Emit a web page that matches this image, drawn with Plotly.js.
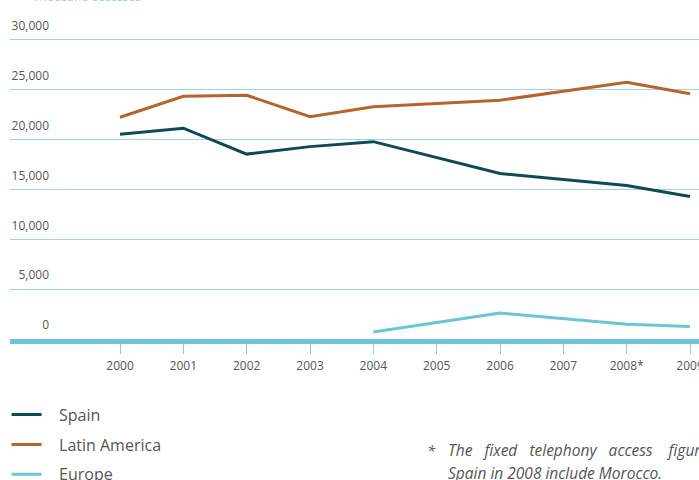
<!DOCTYPE html>
<html>
<head>
<meta charset="utf-8">
<script src="https://cdn.plot.ly/plotly-3.0.1.min.js"></script>
<style>html,body{margin:0;padding:0;background:#fff;}#chart{width:699px;height:480px;}</style>
</head>
<body>
<div id="chart"></div>
<script>
// Data (thousand accesses)
const years = [2000, 2001, 2002, 2003, 2004, 2005, 2006, 2007, 2008, 2009];
const tickLabels = ["2000", "2001", "2002", "2003", "2004", "2005", "2006", "2007", "2008*", "2009"];

const spainYears = [2000, 2001, 2002, 2003, 2004, 2006, 2008, 2009];
const spainValues = [20550, 21150, 18550, 19300, 19800, 16600, 15400, 14300];

const latamYears = [2000, 2001, 2002, 2003, 2004, 2006, 2008, 2009];
const latamValues = [22250, 24350, 24450, 22300, 23300, 23950, 25750, 24600];

const europeYears = [2004, 2006, 2008, 2009];
const europeValues = [700, 2600, 1480, 1250];

const yTicks = [0, 5000, 10000, 15000, 20000, 25000, 30000];
const yTickLabels = ["0", "5,000", "10,000", "15,000", "20,000", "25,000", "30,000"];

const textColor = "#555555";
const font = "'Open Sans', 'Noto Sans', sans-serif";

const traces = [
  {x: spainYears, y: spainValues, name: "&nbsp;&nbsp;&nbsp;Spain", legendgroup: "a", type: "scatter", mode: "lines",
   line: {color: "#0d4a56", width: 3}},
  {x: latamYears, y: latamValues, name: "&nbsp;&nbsp;&nbsp;Latin America", legendgroup: "b", type: "scatter", mode: "lines",
   line: {color: "#b5652b", width: 3}},
  {x: europeYears, y: europeValues, name: "&nbsp;&nbsp;&nbsp;Europe", legendgroup: "c", type: "scatter", mode: "lines",
   line: {color: "#6cc4d8", width: 3}}
];

const layout = {
  width: 699, height: 480,
  margin: {l: 10, r: 0, t: 30, b: 141, pad: 0, autoexpand: false},
  paper_bgcolor: "#ffffff", plot_bgcolor: "#ffffff",
  font: {family: font, color: textColor, size: 12},
  showlegend: true,
  legend: {x: -0.005, xanchor: "left", y: -0.19, yanchor: "top", orientation: "v",
           tracegroupgap: 6, font: {size: 16, color: textColor}, bgcolor: "rgba(0,0,0,0)"},
  xaxis: {
    range: [1998.263, 2009.142], tickmode: "array", tickvals: years, ticktext: tickLabels,
    showgrid: false, zeroline: false, showline: true, linecolor: "#6cc4d8", linewidth: 5,
    ticks: "outside", ticklen: 10, tickwidth: 1, tickcolor: "#7fcde0",
    tickfont: {size: 12, color: textColor}, ticklabeloverflow: "allow", ticklabelstandoff: 2,
    fixedrange: true
  },
  yaxis: {
    range: [0, 31000], tickmode: "array", tickvals: yTicks, ticktext: yTickLabels,
    showgrid: true, gridcolor: "#9dd6e3", gridwidth: 1, zeroline: false, showline: false,
    ticks: "", tickfont: {size: 12, color: textColor},
    ticklabelposition: "outside", ticklabelstandoff: -40, ticklabelshift: -14,
    ticklabeloverflow: "allow", fixedrange: true
  },
  annotations: [
    {xref: "paper", yref: "paper", x: 0.03, y: 1.0, yshift: 34, xanchor: "left", yanchor: "middle",
     text: "Thousand accesses", showarrow: false, font: {size: 12, color: "#a9cfd8"}},
    {xref: "paper", yref: "paper", x: (425 - 10) / 689, y: -(450 - 339) / 309, xanchor: "left", yanchor: "middle",
     text: "<i>*</i>", showarrow: false, font: {size: 15, color: textColor}},
    {xref: "paper", yref: "paper", x: (446 - 10) / 689, y: -(450 - 339) / 309, xanchor: "left", yanchor: "middle",
     align: "left", text: "<i>The&nbsp;&nbsp; fixed&nbsp;&nbsp; telephony&nbsp;&nbsp; access&nbsp;&nbsp;&nbsp; figures for</i>",
     showarrow: false, font: {size: 15.5, color: textColor}},
    {xref: "paper", yref: "paper", x: (446 - 10) / 689, y: -(473 - 339) / 309, xanchor: "left", yanchor: "middle",
     align: "left", text: "<i>Spain in 2008 include Morocco.</i>",
     showarrow: false, font: {size: 15.5, color: textColor}}
  ]
};

Plotly.newPlot("chart", traces, layout, {displayModeBar: false, staticPlot: true});
</script>
</body>
</html>
